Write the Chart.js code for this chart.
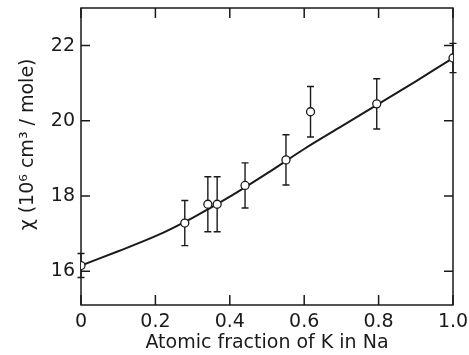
<!DOCTYPE html>
<html>
<head>
<meta charset="utf-8">
<title>chi vs K fraction</title>
<script src="https://cdn.jsdelivr.net/npm/chart.js@4.4.1/dist/chart.umd.min.js"></script>
<style>
body{margin:0;background:#fff;}
#wrap{width:469px;height:355px;}
</style>
</head>
<body>
<div id="wrap"><canvas id="chi"></canvas></div>
<script>
var fracK = [0, 0.279, 0.341, 0.366, 0.441, 0.551, 0.617, 0.795, 1.0];
var chiVal = [16.15, 17.28, 17.78, 17.78, 18.28, 18.96, 20.24, 20.45, 21.67];
var chiErr = [0.32, 0.6, 0.73, 0.73, 0.6, 0.67, 0.67, 0.67, 0.39];
// smooth curve through the data
var curveX = [0, 0.1, 0.2, 0.3, 0.4, 0.5, 0.6, 0.7, 0.8, 0.9, 1.0];
var curveY = [16.15, 16.53, 16.93, 17.42, 17.98, 18.6, 19.25, 19.85, 20.45, 21.05, 21.67];
// axis ticks
var xTicks = [0, 0.2, 0.4, 0.6, 0.8, 1.0];
var xTickLabels = ['0', '0.2', '0.4', '0.6', '0.8', '1.0'];
var yTicks = [16, 18, 20, 22];

var FONT = 'DejaVu Sans';
var INK = '#1a1a1a';

//frame, inward ticks on all four sides, and the error bars
var framePlugin = {
  id: 'frame',
  beforeDatasetsDraw: function(chart) {
    var ctx = chart.ctx, a = chart.chartArea;
    var xs = chart.scales.x, ys = chart.scales.y;
    ctx.save();
    ctx.strokeStyle = INK;
    ctx.lineWidth = 1.5;
    ctx.strokeRect(a.left, a.top, a.right - a.left, a.bottom - a.top);
    ctx.beginPath();
    xTicks.forEach(function(v) {
      var px = xs.getPixelForValue(v);
      ctx.moveTo(px, a.bottom); ctx.lineTo(px, a.bottom - 10);
      ctx.moveTo(px, a.top); ctx.lineTo(px, a.top + 10);
    });
    yTicks.forEach(function(v) {
      var py = ys.getPixelForValue(v);
      ctx.moveTo(a.left, py); ctx.lineTo(a.left + 9, py);
      ctx.moveTo(a.right, py); ctx.lineTo(a.right - 9, py);
    });
    ctx.stroke();

    ctx.lineWidth = 1.4;
    ctx.beginPath();
    for (var i = 0; i < fracK.length; i++) {
      var px = xs.getPixelForValue(fracK[i]);
      var top = ys.getPixelForValue(chiVal[i] + chiErr[i]);
      var bot = ys.getPixelForValue(chiVal[i] - chiErr[i]);
      ctx.moveTo(px, top); ctx.lineTo(px, bot);
      ctx.moveTo(px - 3.5, top); ctx.lineTo(px + 3.5, top);
      ctx.moveTo(px - 3.5, bot); ctx.lineTo(px + 3.5, bot);
    }
    ctx.stroke();
    ctx.restore();
  }
};

var pts = fracK.map(function(x, i) { return {x: x, y: chiVal[i]}; });
var curve = curveX.map(function(x, i) { return {x: x, y: curveY[i]}; });

new Chart(document.getElementById('chi'), {
  type: 'scatter',
  data: {
    datasets: [
      {
        label: 'data',
        data: pts,
        pointRadius: 4,
        pointBackgroundColor: '#fff',
        pointBorderColor: INK,
        pointBorderWidth: 1.3,
        order: 0
      },
      {
        label: 'fit',
        data: curve,
        showLine: true,
        tension: 0.3,
        borderColor: INK,
        borderWidth: 2,
        pointRadius: 0,
        order: 1
      }
    ]
  },
  options: {
    responsive: true,
    maintainAspectRatio: false,
    animation: false,
    events: [],
    layout: { padding: { left: 13, right: 16, top: 8, bottom: 0 } },
    plugins: { legend: { display: false }, tooltip: { enabled: false } },
    scales: {
      x: {
        type: 'linear',
        min: 0, max: 1,
        afterBuildTicks: function(s) { s.ticks = xTicks.map(function(v) { return {value: v}; }); },
        afterFit: function(s) { s.height = 50; s.paddingLeft = 0; s.paddingRight = 0; },
        grid: { display: false, drawTicks: false },
        border: { display: false },
        ticks: {
          padding: 6,
          color: INK,
          font: { family: FONT, size: 19 },
          maxRotation: 0,
          callback: function(v, i) { return xTickLabels[i]; }
        },
        title: {
          display: true,
          text: 'Atomic fraction of K in Na',
          color: INK,
          font: { family: FONT, size: 19 },
          padding: { top: 0, bottom: 1 }
        }
      },
      y: {
        type: 'linear',
        min: 15.1, max: 23,
        afterBuildTicks: function(s) { s.ticks = yTicks.map(function(v) { return {value: v}; }); },
        afterFit: function(s) { s.width = 68; s.paddingTop = 0; s.paddingBottom = 0; },
        grid: { display: false, drawTicks: false },
        border: { display: false },
        ticks: {
          padding: 6,
          color: INK,
          font: { family: FONT, size: 19 },
          callback: function(v) { return String(v); }
        },
        title: {
          display: true,
          text: '    \u03c7 (10\u2076 cm\u00b3 / mole)',
          color: INK,
          font: { family: FONT, size: 19 },
          padding: 4
        }
      }
    }
  },
  plugins: [framePlugin]
});
</script>
</body>
</html>
